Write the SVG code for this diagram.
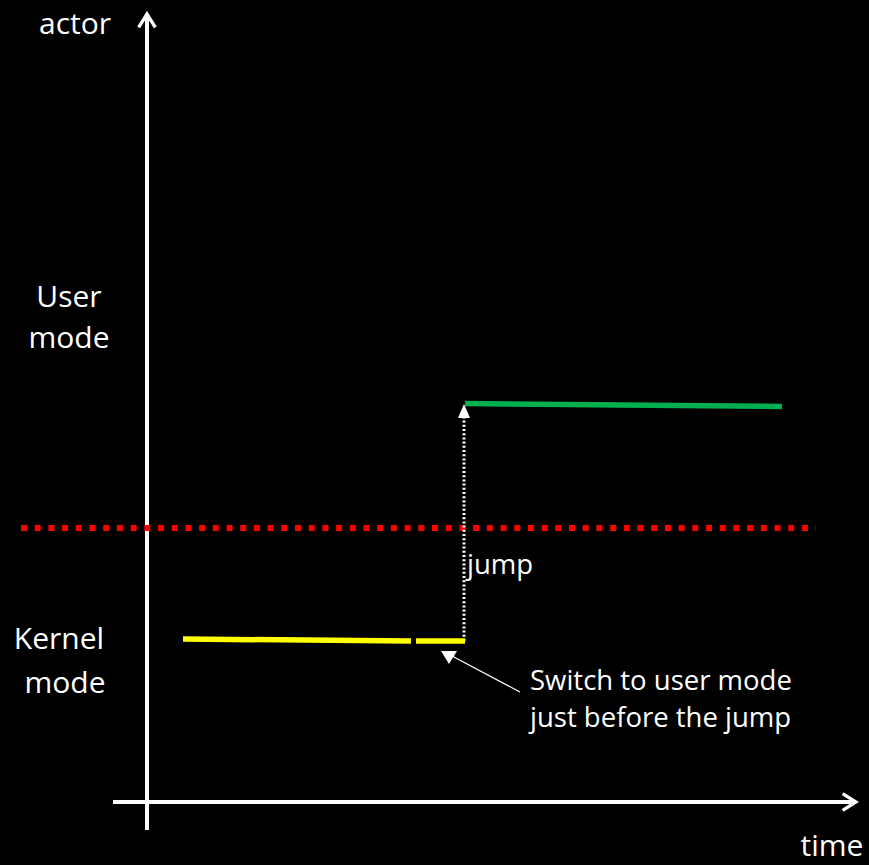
<svg xmlns="http://www.w3.org/2000/svg" width="869" height="865" viewBox="0 0 869 865">
  <defs>
    <style>
      .lbl { font-family: "Open Sans", "Noto Sans", sans-serif; font-size: 30px; fill: #ffffff; }
      .note { font-family: "Open Sans", "Noto Sans", sans-serif; font-size: 27.5px; fill: #ffffff; }
      .axis { stroke: #ffffff; stroke-width: 4; fill: none; }
      .head { fill: #ffffff; }
    </style>
    <marker id="chev" viewBox="0 0 12 12" refX="10" refY="6" markerWidth="5" markerHeight="5" markerUnits="strokeWidth" orient="auto">
      <path d="M2,1 L10,6 L2,11" fill="none" stroke="#ffffff" stroke-width="2"/>
    </marker>
  </defs>
  <rect width="869" height="865" fill="#000000"/>

  <g id="connectors">
    <!-- axes -->
    <line class="axis" x1="147" y1="830" x2="147" y2="14" marker-end="url(#chev)"/>
    <line class="axis" x1="113" y1="802" x2="856" y2="802" marker-end="url(#chev)"/>
    <!-- mode boundary -->
    <line x1="21" y1="528" x2="816" y2="528" stroke="#ff0000" stroke-width="6" stroke-dasharray="6 7.7"/>
    <!-- jump -->
    <line x1="464" y1="641" x2="464" y2="416" stroke="#ffffff" stroke-width="3" stroke-dasharray="2 2.2"/>
    <polygon class="head" points="464,404 458,418 470,418"/>
    <!-- callout pointer -->
    <line x1="520" y1="692" x2="452" y2="656" stroke="#ffffff" stroke-width="1.2"/>
    <polygon class="head" points="441,651 457,651 449,664"/>
  </g>

  <g id="kernel-segment">
    <line x1="183" y1="639" x2="411" y2="641" stroke="#ffff00" stroke-width="5.5"/>
    <line x1="416" y1="641" x2="465" y2="641" stroke="#ffff00" stroke-width="5.5"/>
  </g>
  <g id="user-segment">
    <line x1="465" y1="403.5" x2="782" y2="406.5" stroke="#00b050" stroke-width="5.5"/>
  </g>

  <g id="labels">
    <text class="lbl" x="75" y="34" text-anchor="middle">actor</text>
    <text class="lbl" x="69" y="307" text-anchor="middle">User</text>
    <text class="lbl" x="69" y="348" text-anchor="middle">mode</text>
    <text class="lbl" x="59" y="649" text-anchor="middle">Kernel</text>
    <text class="lbl" x="65" y="693" text-anchor="middle">mode</text>
    <text class="lbl" x="832" y="856" text-anchor="middle">time</text>
    <text class="note" x="467" y="574">jump</text>
    <text class="note" x="530" y="690">Switch to user mode</text>
    <text class="note" x="530" y="727">just before the jump</text>
  </g>
</svg>
